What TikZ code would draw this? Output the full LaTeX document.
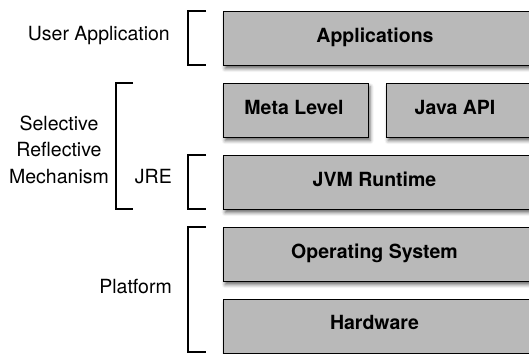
\documentclass[tikz,border=0pt]{standalone}
\usepackage{fontspec}
\setmainfont{TeX Gyre Heros}
\usetikzlibrary{shadows.blur}
\definecolor{boxgray}{RGB}{185,185,185}
\tikzset{
  layer/.style={draw=black, line width=1.3pt, fill=boxgray, anchor=north west, inner sep=0pt,
    blur shadow={shadow xshift=1.5pt, shadow yshift=-3pt, shadow blur radius=3.5pt, shadow opacity=60}},
  layertext/.style={font=\fontsize{19.5}{26.5}\selectfont\bfseries, anchor=base, inner sep=0pt},
  sidelabel/.style={font=\fontsize{19.5}{26.5}\selectfont, inner sep=0pt},
  bracket/.style={draw=black, line width=1.5pt}
}
\begin{document}
\begin{tikzpicture}[x=1pt, y=-1pt]
\useasboundingbox (0,0) rectangle (529,353);
% boxes
\node[layer, minimum width=308pt, minimum height=54pt] (app) at (223,11) {};
\node[layer, minimum width=145pt, minimum height=54pt] (meta) at (223,83) {};
\node[layer, minimum width=145pt, minimum height=54pt] (java) at (386,83) {};
\node[layer, minimum width=308pt, minimum height=54pt] (jvm) at (223,155) {};
\node[layer, minimum width=308pt, minimum height=54pt] (os) at (223,227) {};
\node[layer, minimum width=308pt, minimum height=54pt] (hw) at (223,299) {};
% box texts
\node[layertext] (appt) at (375,42.7) {Applications};
\node[layertext] (metat) at (294,114.3) {Meta Level};
\node[layertext] (javat) at (455,114.3) {Java API};
\node[layertext] (jvmt) at (374.5,186) {JVM Runtime};
\node[layertext] (ost) at (374.5,258.3) {Operating System};
\node[layertext] (hwt) at (374.5,329.5) {Hardware};
% brackets
\draw[bracket] (206,11) -- (188,11) -- (188,65) -- (206,65);
\draw[bracket] (133,83) -- (116,83) -- (116,209) -- (133,209);
\draw[bracket] (206,155) -- (188,155) -- (188,209) -- (206,209);
\draw[bracket] (206,227) -- (188,227) -- (188,352) -- (206,352);
% labels
\node[sidelabel, anchor=base east] (ua) at (170,41) {User Application};
\node[sidelabel, anchor=base, align=center] (srm) at (59,183) {Selective\\Reflective\\Mechanism};
\node[sidelabel, anchor=base east] (jre) at (172,183) {JRE};
\node[sidelabel, anchor=base east] (plat) at (172,293) {Platform};
\end{tikzpicture}
\end{document}
